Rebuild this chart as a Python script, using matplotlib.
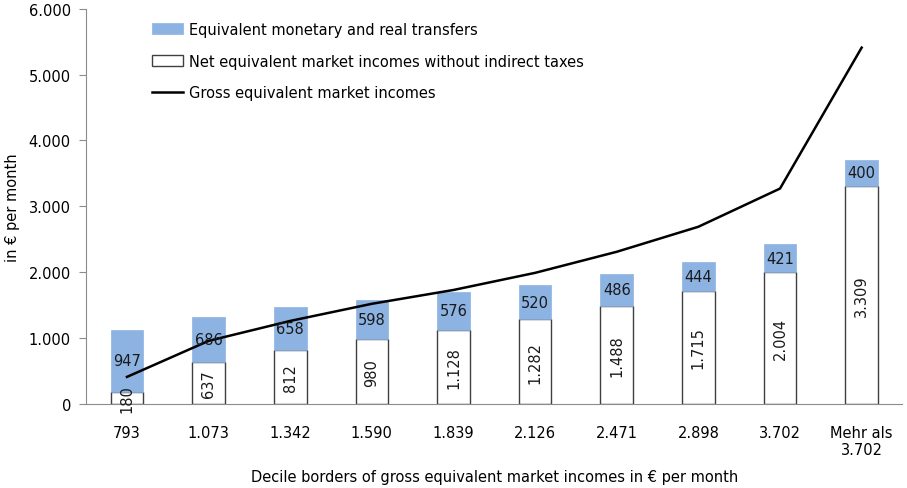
import matplotlib.pyplot as plt
import numpy as np
from matplotlib.ticker import FuncFormatter

categories = ["793", "1.073", "1.342", "1.590", "1.839", "2.126", "2.471", "2.898", "3.702", "Mehr als\n3.702"]
net_income = [180, 637, 812, 980, 1128, 1282, 1488, 1715, 2004, 3309]
transfers = [947, 686, 658, 598, 576, 520, 486, 444, 421, 400]
gross_income = [410, 957, 1260, 1520, 1730, 1990, 2310, 2690, 3270, 5410]

BLUE = "#8db3e2"
GRAY = "#8c8c8c"


def de_fmt(v):
    return f"{int(round(v)):,}".replace(",", ".")


plt.rcParams["font.family"] = ["DejaVu Sans"]

fig = plt.figure(figsize=(9.07, 4.89), dpi=100)
ax = fig.add_axes([0.095, 0.172, 0.9, 0.808])

x = np.arange(len(categories))
w = 0.4
ax.bar(x, net_income, width=w, color="white", edgecolor="#3f3f3f", linewidth=1,
       label="Net equivalent market incomes without indirect taxes", zorder=2)
ax.bar(x, transfers, width=w, bottom=net_income, color=BLUE, edgecolor=BLUE,
       linewidth=0.5, label="Equivalent monetary and real transfers", zorder=2)
ax.plot(x, gross_income, color="black", linewidth=1.8,
        label="Gross equivalent market incomes", zorder=3)

for xi, n, t in zip(x, net_income, transfers):
    ax.text(xi, n / 2, de_fmt(n), rotation=90, ha="center", va="center",
            fontsize=10.5, color="#1a1a1a", zorder=4)
    ax.text(xi, n + t / 2, de_fmt(t), ha="center", va="center",
            fontsize=10.5, color="#1a1a1a", zorder=4)

ax.set_xlim(-0.5, len(categories) - 0.5)
ax.set_ylim(0, 6000)
ax.set_yticks(np.arange(0, 6001, 1000))
ax.yaxis.set_major_formatter(FuncFormatter(lambda v, p: de_fmt(v)))
ax.set_xticks(x)
ax.set_xticklabels(categories)
ax.tick_params(axis="x", length=0, pad=15, labelsize=10.5)
ax.tick_params(axis="y", length=5, color=GRAY, labelsize=10.5, pad=6)
for s in ["top", "right"]:
    ax.spines[s].set_visible(False)
ax.spines["left"].set_color(GRAY)
ax.spines["bottom"].set_color(GRAY)

ax.set_ylabel("in € per month", fontsize=10.5, labelpad=6)
fig.text(0.545, 1 - 478 / 489,
         "Decile borders of gross equivalent market incomes in € per month",
         ha="center", va="center", fontsize=10.5)

h, l = ax.get_legend_handles_labels()
order = [2, 1, 0]
ax.legend([h[i] for i in order], [l[i] for i in order], loc="upper left",
          bbox_to_anchor=(0.065, 1.0), frameon=False, fontsize=10.5,
          handlelength=2.1, handleheight=0.8, handletextpad=0.4, labelspacing=1.15)

fig.savefig("out.png", dpi=100)
